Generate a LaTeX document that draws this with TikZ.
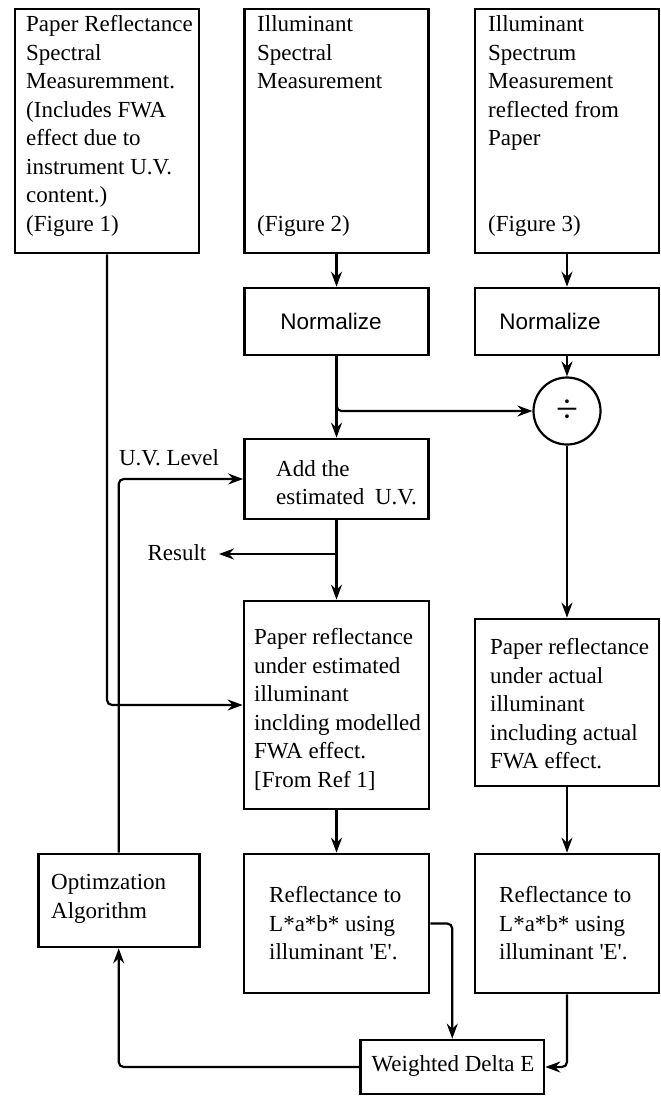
\documentclass[tikz,border=0pt]{standalone}
\usepackage{fontspec}
\setmainfont{Liberation Serif}
\newfontfamily\sansf{Liberation Sans}
\usetikzlibrary{arrows.meta}
\begin{document}
\begin{tikzpicture}[x=1pt,y=-1pt,
  box/.style={draw, line width=2.7pt, inner sep=0pt, rectangle},
  txt/.style={font=\fontsize{23}{28.5}\selectfont, align=left, inner sep=0pt, anchor=west},
  ntxt/.style={font=\sansf\fontsize{22.5}{27}\selectfont, inner sep=0pt},
  arr/.style={line width=2.2pt, -{Stealth[length=15pt,width=11pt,inset=5pt]}},
]
\useasboundingbox (0,0) rectangle (661,1096);
% boxes
\node[box, minimum width=184pt, minimum height=244pt] (A) at (107,131) {};
\node[box, minimum width=184pt, minimum height=244pt] (B) at (336.5,131) {};
\node[box, minimum width=184pt, minimum height=244pt] (C) at (567,131) {};
\node[box, minimum width=184pt, minimum height=67pt] (NB) at (336.5,321.5) {};
\node[box, minimum width=184pt, minimum height=67pt] (NC) at (567,321.5) {};
\node[draw, circle, line width=2.2pt, minimum size=67pt, inner sep=0pt, font=\fontsize{40}{40}\selectfont] (div) at (567,411) {÷};
\node[box, minimum width=184pt, minimum height=80pt] (Add) at (336.5,479) {};
\node[box, minimum width=185pt, minimum height=208pt] (D) at (336.5,705) {};
\node[box, minimum width=184pt, minimum height=167pt] (E) at (567,702.5) {};
\node[box, minimum width=185pt, minimum height=139pt] (D2) at (336.5,923.5) {};
\node[box, minimum width=184pt, minimum height=139pt] (E2) at (567,923.5) {};
\node[box, minimum width=161pt, minimum height=93pt] (Opt) at (118.7,900.5) {};
\node[box, minimum width=183.5pt, minimum height=54pt] (W) at (452.25,1067) {};
% texts
\node[txt] (tA) at (26,126) {Paper Reflectance\\Spectral\\Measuremment.\\(Includes FWA\\effect due to\\instrument U.V.\\content.)\\(Figure 1)};
\node[txt] (tB) at (257,126) {Illuminant\\Spectral\\Measurement\\\mbox{}\\\mbox{}\\\mbox{}\\\mbox{}\\(Figure 2)};
\node[txt] (tC) at (488,126) {Illuminant\\Spectrum\\Measurement\\reflected from\\Paper\\\mbox{}\\\mbox{}\\(Figure 3)};
\node[ntxt] (tNB) at (331,321) {Normalize};
\node[ntxt] (tNC) at (550,321) {Normalize};
\node[txt] (tAdd) at (276,482.5) {Add the\\estimated\hspace{5pt} U.V.};
\node[txt, anchor=center] (uv) at (169,458) {U.V. Level};
\node[txt, anchor=east, inner xsep=12.5pt] (res) at (219,553) {Result};
\node[txt] (tD) at (254,709.5) {Paper reflectance\\under estimated\\illuminant\\inclding modelled\\FWA effect.\\{[From Ref 1]}};
\node[txt] (tE) at (490,704) {Paper reflectance\\under actual\\illuminant\\including actual\\FWA effect.};
\node[txt] (tD2) at (269,923.5) {Reflectance to\\L*a*b* using\\illuminant \textquotesingle E\textquotesingle .};
\node[txt] (tE2) at (499,923.5) {Reflectance to\\L*a*b* using\\illuminant \textquotesingle E\textquotesingle .};
\node[txt] (tOpt) at (51,899) {Optimzation\\Algorithm};
\node[txt, anchor=center] (tW) at (453,1066) {Weighted Delta E};
% connectors
\draw[arr] (B.south) -- (NB.north);
\draw[arr] (C.south) -- (NC.north);
\draw[arr] (NC.south) -- (div.north);
\draw[arr] (NB.south) -- (Add.north);
\draw[arr, rounded corners=5pt] (NB.south) |- (div.west);
\draw[arr] (div.south) -- (E.north);
\draw[arr] (Add.south) -- (D.north);
\coordinate (rb) at (336.5,554);
\draw[arr] (rb) -- (rb -| res.east);
\draw[arr, rounded corners=5pt] (A.south) |- (D.west);
\draw[arr, rounded corners=5pt] (Opt.north) |- (Add.west);
\draw[arr] (D.south) -- (D2.north);
\draw[arr] (E.south) -- (E2.north);
\draw[arr, rounded corners=5pt] (D2.east) -| (W.north);
\draw[arr, rounded corners=5pt] (E2.south) |- (W.east);
\draw[arr, rounded corners=5pt] (W.west) -| (Opt.south);
\end{tikzpicture}
\end{document}
